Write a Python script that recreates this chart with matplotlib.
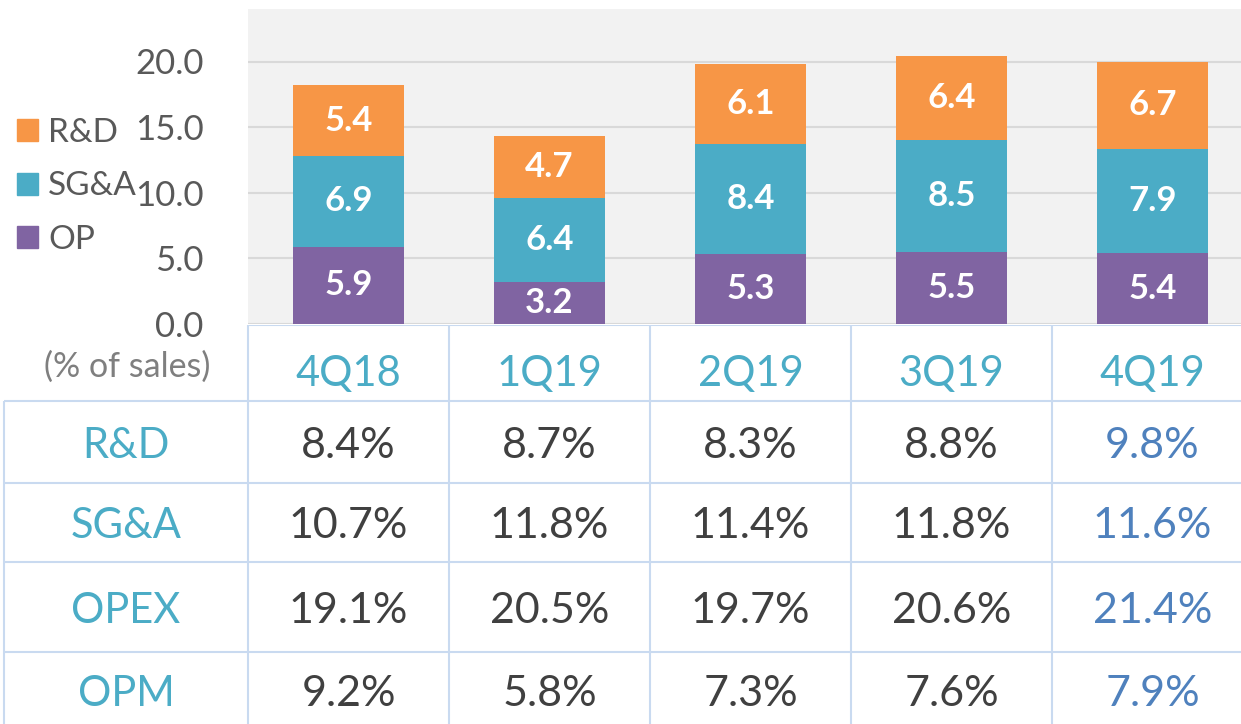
import matplotlib.pyplot as plt
from matplotlib.patches import Patch

plt.rcParams['font.family'] = ['Lato', 'DejaVu Sans']

# chart data
quarters = ['4Q18', '1Q19', '2Q19', '3Q19', '4Q19']
op = [5.9, 3.2, 5.3, 5.5, 5.4]
sga = [6.9, 6.4, 8.4, 8.5, 7.9]
rnd = [5.4, 4.7, 6.1, 6.4, 6.7]

# table data (% of sales)
row_names = ['R&D', 'SG&A', 'OPEX', 'OPM']
rd_pct = [8.4, 8.7, 8.3, 8.8, 9.8]
sga_pct = [10.7, 11.8, 11.4, 11.8, 11.6]
opex_pct = [19.1, 20.5, 19.7, 20.6, 21.4]
opm_pct = [9.2, 5.8, 7.3, 7.6, 7.9]
table_rows = [rd_pct, sga_pct, opex_pct, opm_pct]

c_orange = '#F79646'
c_teal = '#4BACC6'
c_purple = '#8064A2'
c_line = '#C9DAF0'
c_dark = '#404040'
c_blue = '#4F81BD'
c_tick = '#595959'

W, H = 1241, 724
fig = plt.figure(figsize=(W / 100, H / 100), dpi=100)

# bar chart axes (pixel box: x 248..1241, y 9..324)
ax = fig.add_axes([248 / W, 1 - 324 / H, (W - 248) / W, (324 - 9) / H])
ax.set_facecolor('#F2F2F2')
x = range(len(quarters))
bottom2 = [a + b for a, b in zip(op, sga)]
b1 = ax.bar(x, op, width=0.55, color=c_purple, zorder=3)
b2 = ax.bar(x, sga, width=0.55, bottom=op, color=c_teal, zorder=3)
b3 = ax.bar(x, rnd, width=0.55, bottom=bottom2, color=c_orange, zorder=3)
for bars in (b1, b2, b3):
    ax.bar_label(bars, labels=[f'{v.get_height():.1f}' for v in bars],
                 label_type='center', color='white', fontsize=25,
                 fontweight='bold', zorder=4)

ax.set_xlim(-0.5, -0.5 + (W - 248) / 201)
ax.set_ylim(0, 24)
ax.set_yticks([0, 5, 10, 15, 20])
ax.set_yticklabels([f'{v:.1f}' for v in [0, 5, 10, 15, 20]])
ax.tick_params(axis='y', length=0, pad=32, labelsize=25, labelcolor=c_tick)
ax.set_xticks([])
ax.grid(axis='y', color='#D9D9D9', linewidth=1.5, zorder=0)
for s in ax.spines.values():
    s.set_visible(False)

handles = [Patch(color=c_orange, label='R&D'),
           Patch(color=c_teal, label='SG&A'),
           Patch(color=c_purple, label='OP')]
leg = fig.legend(handles=handles, loc='upper left',
                 bbox_to_anchor=(17 / W, 1 - 118 / H), frameon=False,
                 fontsize=24, handlelength=0.63, handleheight=0.63,
                 handletextpad=0.3, labelspacing=0.7, borderpad=0,
                 borderaxespad=0)
for t in leg.get_texts():
    t.set_color(c_tick)

fig.text(210 / W, 1 - 367 / H, '(% of sales)', ha='right', va='center',
         fontsize=24.5, color='#7F7F7F')

# table axes: x in category units, y in pixels from the top
ta = fig.add_axes([0, 0, 1, (H - 325) / H])
ta.set_xlim(-0.5 - 248 / 201, -0.5 + (W - 248) / 201)
ta.set_ylim(H, 325)
ta.axis('off')

left_x = -0.5 - (248 - 4) / 201
row_edges = [401, 483, 562, 652]
row_mid = [446, 526, 611, 694]
ta.hlines(325, -0.5, 5, color=c_line, lw=1.5)
ta.hlines(row_edges, left_x, 5, color=c_line, lw=1.5)
ta.vlines([i - 0.5 for i in range(len(quarters))], 325, H, color=c_line, lw=1.5)
ta.vlines(left_x, 401, H, color=c_line, lw=1.5)

for i, q in enumerate(quarters):
    ta.text(i, 374, q, ha='center', va='center', fontsize=30, color=c_teal)

label_x = (left_x - 0.5) / 2
for r, name in enumerate(row_names):
    ta.text(label_x, row_mid[r], name, ha='center', va='center',
            fontsize=30, color=c_teal)
    for i, v in enumerate(table_rows[r]):
        col = c_blue if i == len(quarters) - 1 else c_dark
        ta.text(i, row_mid[r], f'{v:.1f}%', ha='center', va='center',
                fontsize=31, color=col)

fig.savefig('out.png', dpi=100)
